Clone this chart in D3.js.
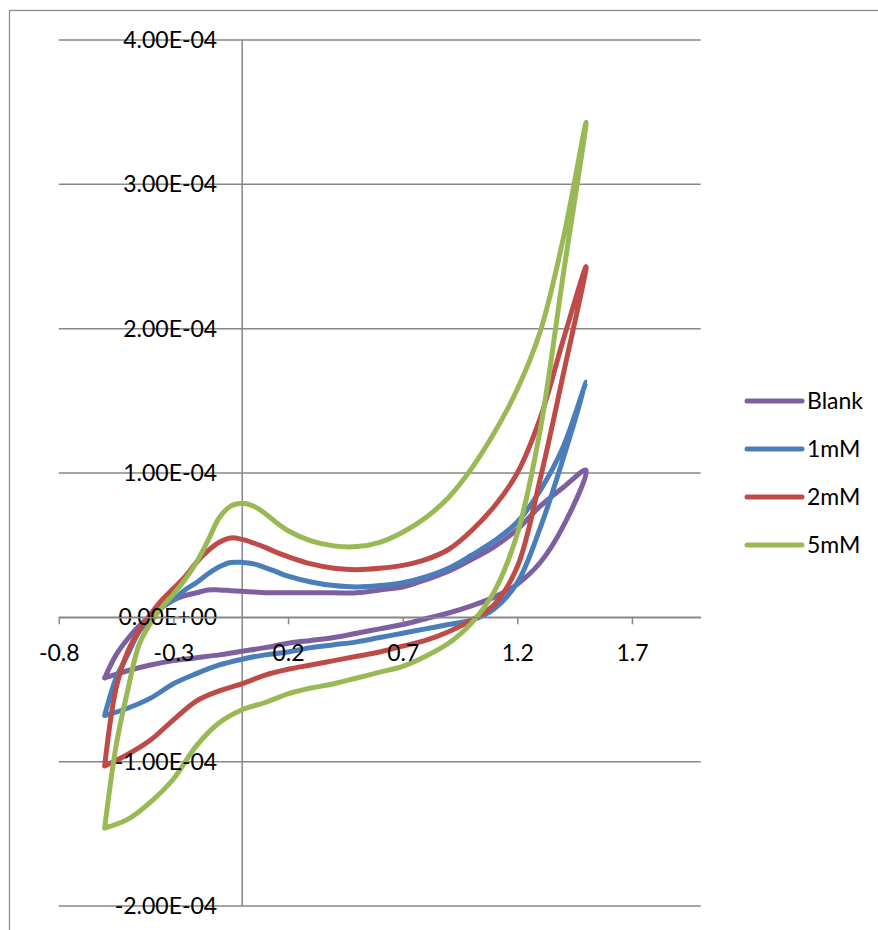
<!DOCTYPE html>
<html>
<head>
<meta charset="utf-8">
<script src="https://cdn.jsdelivr.net/npm/d3@7"></script>
<style>
  html, body { margin: 0; padding: 0; background: #fff; }
  svg { display: block; font-family: Lato, Carlito, Calibri, sans-serif; }
</style>
</head>
<body>
<svg id="chart" width="878" height="930"></svg>
<script>
// Potential grid (V) for the forward (anodic) and reverse (cathodic) sweeps
const anodicE = [-0.6, -0.55, -0.5, -0.45, -0.4, -0.35, -0.3, -0.25, -0.2, -0.15, -0.1, -0.05,
                 0, 0.05, 0.1, 0.15, 0.2, 0.3, 0.4, 0.5, 0.6, 0.7, 0.8, 0.9, 1.0, 1.1, 1.2, 1.3, 1.4, 1.5];
const cathodicE = [1.5, 1.4, 1.3, 1.2, 1.1, 1.0, 0.9, 0.8, 0.7, 0.6, 0.5, 0.4, 0.3, 0.2, 0.1,
                   0, -0.1, -0.2, -0.3, -0.4, -0.5, -0.6];

// Currents in units of 1e-4 A
const blankAnodic = [-0.42, -0.26, -0.15, -0.06, 0.01, 0.07, 0.12, 0.15, 0.17, 0.19, 0.19, 0.185,
                     0.18, 0.175, 0.17, 0.17, 0.17, 0.17, 0.17, 0.17, 0.19, 0.21, 0.26, 0.32, 0.40, 0.49, 0.61, 0.77, 0.90, 1.02];
const blankCathodic = [1.02, 0.63, 0.38, 0.23, 0.14, 0.08, 0.03, -0.01, -0.05, -0.08, -0.11, -0.14, -0.16,
                       -0.18, -0.21, -0.235, -0.26, -0.28, -0.30, -0.33, -0.37, -0.42];

const mM1Anodic = [-0.68, -0.42, -0.26, -0.10, -0.01, 0.07, 0.12, 0.19, 0.24, 0.30, 0.35, 0.38,
                   0.38, 0.37, 0.345, 0.315, 0.285, 0.245, 0.22, 0.21, 0.22, 0.24, 0.28, 0.34, 0.43, 0.53, 0.66, 0.88, 1.18, 1.63];
const mM1Cathodic = [1.63, 1.10, 0.62, 0.24, 0.06, -0.02, -0.05, -0.08, -0.11, -0.14, -0.17, -0.19, -0.21,
                     -0.24, -0.26, -0.29, -0.33, -0.39, -0.46, -0.56, -0.63, -0.68];

const mM2Anodic = [-1.03, -0.49, -0.24, -0.09, 0.02, 0.12, 0.20, 0.28, 0.38, 0.46, 0.52, 0.55,
                   0.54, 0.515, 0.485, 0.45, 0.42, 0.37, 0.34, 0.33, 0.34, 0.36, 0.40, 0.47, 0.60, 0.77, 1.00, 1.38, 1.92, 2.43];
const mM2Cathodic = [2.43, 1.68, 0.96, 0.35, 0.09, -0.02, -0.10, -0.16, -0.20, -0.24, -0.27, -0.30, -0.33,
                     -0.36, -0.40, -0.46, -0.51, -0.58, -0.71, -0.85, -0.95, -1.03];

const mM5Anodic = [-1.46, -0.89, -0.51, -0.19, -0.04, 0.07, 0.16, 0.26, 0.38, 0.53, 0.69, 0.77,
                   0.79, 0.77, 0.72, 0.655, 0.60, 0.53, 0.495, 0.49, 0.52, 0.59, 0.69, 0.83, 1.03, 1.28, 1.58, 1.98, 2.62, 3.43];
const mM5Cathodic = [3.43, 2.37, 1.30, 0.58, 0.18, -0.04, -0.18, -0.27, -0.34, -0.38, -0.42, -0.46, -0.49,
                     -0.53, -0.59, -0.64, -0.73, -0.89, -1.12, -1.28, -1.40, -1.46];

const seriesNames = ["Blank", "1mM", "2mM", "5mM"];
const seriesColors = ["#7D60A0", "#4A7EBB", "#BE4B48", "#98B954"];
const seriesAnodic = [blankAnodic, mM1Anodic, mM2Anodic, mM5Anodic];
const seriesCathodic = [blankCathodic, mM1Cathodic, mM2Cathodic, mM5Cathodic];

const xTicks = [-0.8, -0.3, 0.2, 0.7, 1.2, 1.7];
const yTicks = [-2e-4, -1e-4, 0, 1e-4, 2e-4, 3e-4, 4e-4];

const svg = d3.select("#chart");
const axisColor = "#878787";
const fontSize = 23;

// Outer chart frame
svg.append("rect")
  .attr("x", 9.5).attr("y", 10.5)
  .attr("width", 900).attr("height", 960)
  .attr("fill", "#fff")
  .attr("stroke", "#8c8c8c").attr("stroke-width", 1.3);

const x = d3.scaleLinear().domain([-0.8, 2.0]).range([58.8, 700.7]);
const y = d3.scaleLinear().domain([-2e-4, 4e-4]).range([906, 40]);

// Scientific tick format: 0.00E+00
function sci(v) {
  if (v === 0) return "0.00E+00";
  const exp = Math.floor(Math.log10(Math.abs(v)) + 1e-9);
  const m = v / Math.pow(10, exp);
  return m.toFixed(2) + "E" + (exp < 0 ? "-" : "+") + String(Math.abs(exp)).padStart(2, "0");
}

// Horizontal gridlines
svg.append("g")
  .selectAll("line")
  .data(yTicks)
  .join("line")
  .attr("x1", x.range()[0]).attr("x2", x.range()[1])
  .attr("y1", d => y(d)).attr("y2", d => y(d))
  .attr("stroke", axisColor).attr("stroke-width", 1.5);

// Vertical axis line at E = 0
svg.append("line")
  .attr("x1", x(0)).attr("x2", x(0))
  .attr("y1", y.range()[1]).attr("y2", y.range()[0])
  .attr("stroke", axisColor).attr("stroke-width", 1.5);

// Horizontal axis at I = 0, ticks pointing down
const xAxis = svg.append("g")
  .attr("transform", `translate(0,${y(0)})`)
  .call(d3.axisBottom(x).tickValues(xTicks).tickSize(7).tickSizeOuter(0).tickPadding(20)
    .tickFormat(d => d.toFixed(1)));
xAxis.select(".domain").attr("stroke", axisColor).attr("stroke-width", 1.5);
xAxis.selectAll(".tick line").attr("stroke", axisColor).attr("stroke-width", 1.5);
xAxis.selectAll(".tick text")
  .attr("fill", "#000").attr("font-size", fontSize)
  .attr("font-family", "Lato, Carlito, Calibri, sans-serif");

// Voltammogram loops
const line = d3.line()
  .x(d => x(d[0]))
  .y(d => y(d[1]))
  .curve(d3.curveCatmullRom.alpha(0.5));

const series = seriesNames.map((name, k) => {
  const fwd = anodicE.map((e, i) => [e, seriesAnodic[k][i] * 1e-4]);
  const rev = cathodicE.map((e, i) => [e, seriesCathodic[k][i] * 1e-4]).slice(1);
  return { name, color: seriesColors[k], points: fwd.concat(rev) };
});

svg.append("g")
  .selectAll("path")
  .data(series)
  .join("path")
  .attr("d", d => line(d.points))
  .attr("fill", "none")
  .attr("stroke", d => d.color)
  .attr("stroke-width", 5)
  .attr("stroke-linejoin", "round")
  .attr("stroke-linecap", "round");

// Vertical axis labels, drawn over the curves
svg.append("g")
  .selectAll("text")
  .data(yTicks)
  .join("text")
  .attr("x", x(0) - 25)
  .attr("y", d => y(d))
  .attr("dy", "0.35em")
  .attr("text-anchor", "end")
  .attr("font-size", fontSize)
  .attr("fill", "#000")
  .text(d => sci(d));

xAxis.raise();

// Legend
const legend = svg.append("g");
const legendY = d3.scalePoint().domain(seriesNames).range([401, 545]);
const items = legend.selectAll("g")
  .data(series)
  .join("g")
  .attr("transform", d => `translate(0,${legendY(d.name)})`);
items.append("line")
  .attr("x1", 747).attr("x2", 802)
  .attr("stroke", d => d.color)
  .attr("stroke-width", 5)
  .attr("stroke-linecap", "round");
items.append("text")
  .attr("x", 807)
  .attr("dy", "0.35em")
  .attr("font-size", fontSize)
  .attr("fill", "#000")
  .text(d => d.name);
</script>
</body>
</html>
